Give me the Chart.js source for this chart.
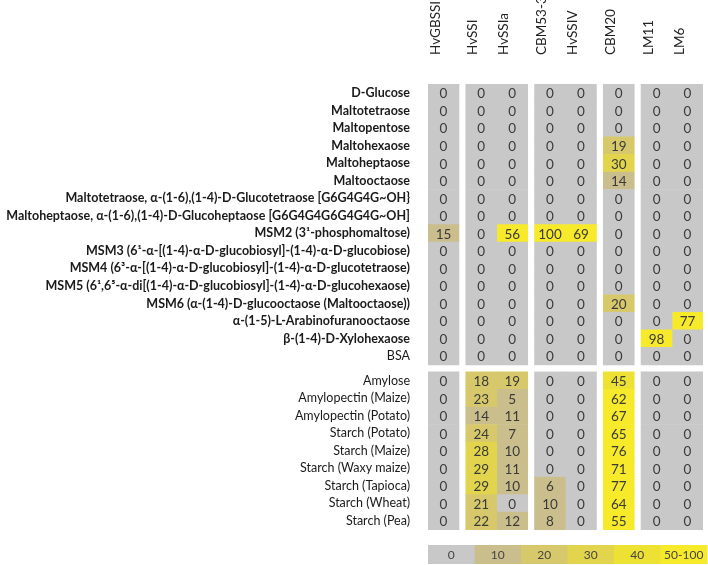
<!DOCTYPE html>
<html lang="en">
<head>
<meta charset="UTF-8">
<title>Glycan array binding</title>
<script src="https://cdn.jsdelivr.net/npm/chart.js"></script>
<style>
  body { margin: 0; background: #fff; }
</style>
</head>
<body>
<canvas id="heatmap" width="708" height="565"></canvas>
<script>
// column headers, and which block each column sits in
const columns = ['HvGBSSI', 'HvSSI', 'HvSSIa', 'CBM53-3', 'HvSSIV', 'CBM20', 'LM11', 'LM6'];
const columnGroups = [0, 1, 1, 2, 2, 3, 4, 4];

// oligosaccharides (upper block) and polysaccharides (lower block)
const oligoRows = [
    'D-Glucose',
    'Maltotetraose',
    'Maltopentose',
    'Maltohexaose',
    'Maltoheptaose',
    'Maltooctaose',
    'Maltotetraose, α-(1-6),(1-4)-D-Glucotetraose [G6G4G4G~OH}',
    'Maltoheptaose, α-(1-6),(1-4)-D-Glucoheptaose [G6G4G4G6G4G4G~OH]',
    'MSM2 (3¹-phosphomaltose)',
    'MSM3 (6¹-α-[(1-4)-α-D-glucobiosyl]-(1-4)-α-D-glucobiose)',
    'MSM4 (6³-α-[(1-4)-α-D-glucobiosyl]-(1-4)-α-D-glucotetraose)',
    'MSM5 (6¹,6⁵-α-di[(1-4)-α-D-glucobiosyl]-(1-4)-α-D-glucohexaose)',
    'MSM6 (α-(1-4)-D-glucooctaose (Maltooctaose))',
    'α-(1-5)-L-Arabinofuranooctaose',
    'β-(1-4)-D-Xylohexaose',
    'BSA'
];
const polyRows = [
    'Amylose',
    'Amylopectin (Maize)',
    'Amylopectin (Potato)',
    'Starch (Potato)',
    'Starch (Maize)',
    'Starch (Waxy maize)',
    'Starch (Tapioca)',
    'Starch (Wheat)',
    'Starch (Pea)'
];

// values per column: 16 oligo rows then 9 polysaccharide rows
const hvgbssi = [0, 0, 0, 0, 0, 0, 0, 0, 15, 0, 0, 0, 0, 0, 0, 0,   0, 0, 0, 0, 0, 0, 0, 0, 0];
const hvssi   = [0, 0, 0, 0, 0, 0, 0, 0, 0, 0, 0, 0, 0, 0, 0, 0,   18, 23, 14, 24, 28, 29, 29, 21, 22];
const hvssiia = [0, 0, 0, 0, 0, 0, 0, 0, 56, 0, 0, 0, 0, 0, 0, 0,  19, 5, 11, 7, 10, 11, 10, 0, 12];
const cbm53   = [0, 0, 0, 0, 0, 0, 0, 0, 100, 0, 0, 0, 0, 0, 0, 0, 0, 0, 0, 0, 0, 0, 6, 10, 8];
const hvssiv  = [0, 0, 0, 0, 0, 0, 0, 0, 69, 0, 0, 0, 0, 0, 0, 0,  0, 0, 0, 0, 0, 0, 0, 0, 0];
const cbm20   = [0, 0, 0, 19, 30, 14, 0, 0, 0, 0, 0, 0, 20, 0, 0, 0, 45, 62, 67, 65, 76, 71, 77, 64, 55];
const lm11    = [0, 0, 0, 0, 0, 0, 0, 0, 0, 0, 0, 0, 0, 0, 98, 0,  0, 0, 0, 0, 0, 0, 0, 0, 0];
const lm6     = [0, 0, 0, 0, 0, 0, 0, 0, 0, 0, 0, 0, 0, 77, 0, 0,  0, 0, 0, 0, 0, 0, 0, 0, 0];

// colour key
const keyLabels = ['0', '10', '20', '30', '40', '50-100'];
const keyColors = ['#c8c8c8', '#cbbe8d', '#d7c96b', '#e2d54d', '#ede134', '#f7ea2a'];

const series = [hvgbssi, hvssi, hvssiia, cbm53, hvssiv, cbm20, lm11, lm6];
const rowLabels = oligoRows.concat(polyRows);

const groupGap = 0.22;
const sectionGap = 0.4;
const colStart = c => c + columnGroups[c] * groupGap;
const rowPos = rowLabels.map((_, i) => i < oligoRows.length ? i : i + sectionGap);

function cellColor(v) {
    if (v === 0) return keyColors[0];
    if (v <= 15) return keyColors[1];
    if (v <= 25) return keyColors[2];
    if (v <= 35) return keyColors[3];
    if (v <= 45) return keyColors[4];
    return keyColors[5];
}

const cellText = {
    id: 'cellText',
    afterDatasetsDraw(chart) {
        const ctx = chart.ctx;
        ctx.save();
        ctx.font = '13.5px Lato';
        ctx.fillStyle = '#3a3a3a';
        ctx.textAlign = 'center';
        ctx.textBaseline = 'middle';
        chart.data.datasets.forEach((ds, di) => {
            chart.getDatasetMeta(di).data.forEach((bar, i) => {
                const p = bar.getCenterPoint();
                ctx.fillText(ds.values[i], p.x, p.y + 1);
            });
        });
        ctx.restore();
    }
};

const colorKey = {
    id: 'colorKey',
    afterDraw(chart) {
        const { ctx, chartArea } = chart;
        const top = chartArea.bottom + 6;
        const h = 19;
        const w = (chart.width - 1 - chartArea.left) / keyLabels.length;
        ctx.save();
        ctx.font = '12px Lato';
        ctx.textAlign = 'center';
        ctx.textBaseline = 'middle';
        keyLabels.forEach((lab, i) => {
            const x = chartArea.left + i * w;
            ctx.fillStyle = keyColors[i];
            ctx.fillRect(x, top, w + 0.5, h);
            ctx.fillStyle = '#444';
            ctx.fillText(lab, x + w / 2, top + h / 2 + 1);
        });
        ctx.restore();
    }
};

new Chart(document.getElementById('heatmap').getContext('2d'), {
    type: 'bar',
    data: {
        datasets: columns.map((name, c) => ({
            label: name,
            values: series[c],
            data: rowPos.map(y => ({ x: [colStart(c), colStart(c) + 1], y: y })),
            backgroundColor: series[c].map(cellColor),
            borderWidth: 0,
            barPercentage: 1,
            categoryPercentage: 1,
            grouped: false
        }))
    },
    options: {
        indexAxis: 'y',
        responsive: false,
        animation: false,
        events: [],
        layout: { padding: { top: 0, left: 0, right: 5, bottom: 26 } },
        scales: {
            x: {
                type: 'linear',
                position: 'top',
                min: 0,
                max: colStart(columns.length - 1) + 1,
                grid: { display: false },
                border: { display: false },
                afterBuildTicks: s => { s.ticks = columns.map((_, i) => ({ value: colStart(i) + 0.5 })); },
                afterFit: s => { s.height = 75; },
                ticks: {
                    autoSkip: false,
                    minRotation: 90,
                    maxRotation: 90,
                    padding: 12,
                    labelOffset: 8,
                    color: '#222',
                    font: { family: 'Lato', size: 13.5 },
                    callback: (v, i) => columns[i]
                }
            },
            y: {
                type: 'linear',
                reverse: true,
                min: -0.5,
                max: rowPos[rowPos.length - 1] + 0.5,
                grid: { display: false },
                border: { display: false },
                afterBuildTicks: s => { s.ticks = rowPos.map(v => ({ value: v })); },
                afterFit: s => { s.width = 428; },
                ticks: {
                    autoSkip: false,
                    padding: 10,
                    color: '#1a1a1a',
                    font: ctx => ({ family: 'Lato', size: 12.5, weight: ctx.index < oligoRows.length - 1 ? 'bold' : 'normal' }),
                    callback: (v, i) => rowLabels[i]
                }
            }
        },
        plugins: {
            legend: { display: false },
            tooltip: { enabled: false }
        }
    },
    plugins: [cellText, colorKey]
});
</script>
</body>
</html>
